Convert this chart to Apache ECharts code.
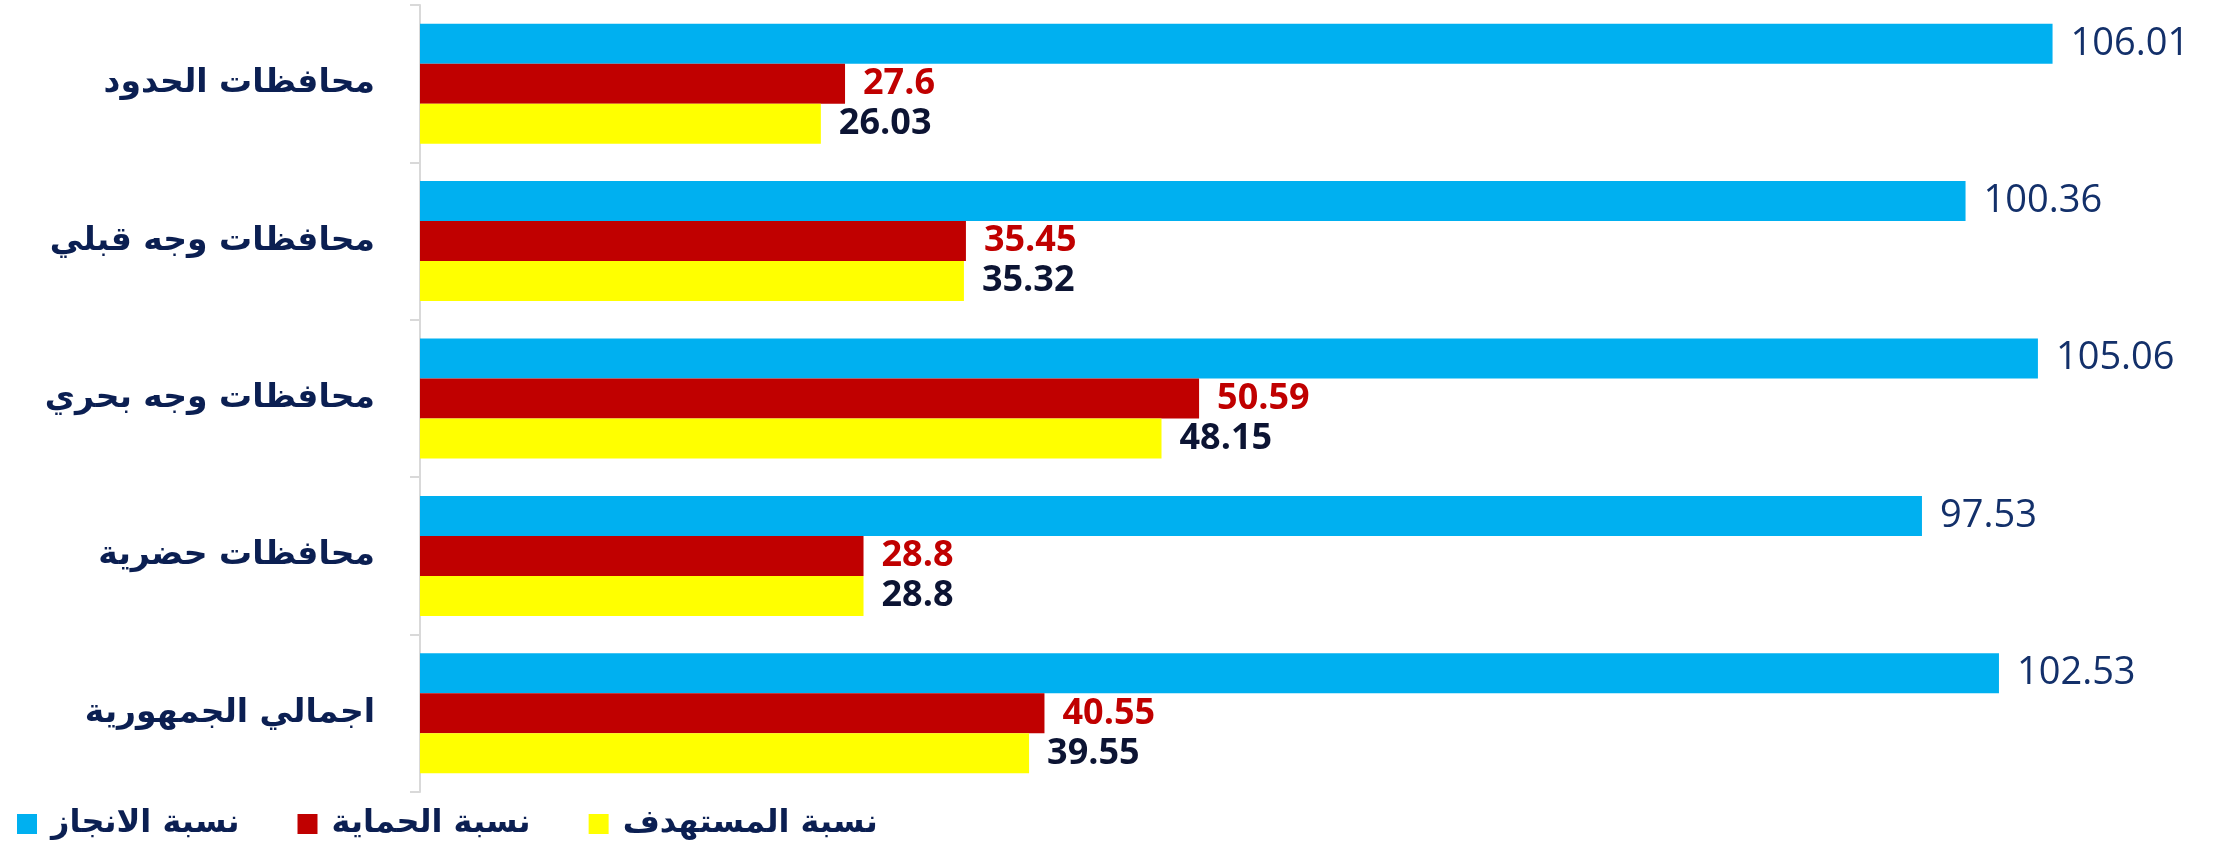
<!DOCTYPE html>
<html>
<head>
<meta charset="utf-8">
<script src="https://cdn.jsdelivr.net/npm/echarts@6/dist/echarts.min.js"></script>
<style>html,body{margin:0;padding:0;background:#fff}#c{width:2216px;height:851px}</style>
</head>
<body>
<div id="c"></div>
<script>
const categories = ['محافظات الحدود', 'محافظات وجه قبلي', 'محافظات وجه بحري', 'محافظات حضرية', 'اجمالي الجمهورية'];
const achievement = [106.01, 100.36, 105.06, 97.53, 102.53];
const protection = [27.6, 35.45, 50.59, 28.8, 40.55];
const target = [26.03, 35.32, 48.15, 28.8, 39.55];
const seriesNames = ['نسبة الانجاز', 'نسبة الحماية', 'نسبة المستهدف'];

const chart = echarts.init(document.getElementById('c'), null, {renderer: 'canvas'});
const numFont = '"Open Sans", "DejaVu Sans", sans-serif';
const arFont = '"DejaVu Sans", "Noto Sans", sans-serif';
chart.setOption({
  animation: false,
  backgroundColor: '#ffffff',
  grid: {left: 420, right: 102, top: 5, bottom: 59, containLabel: false},
  legend: {
    data: seriesNames,
    left: 12, top: 803,
    itemWidth: 20, itemHeight: 20, itemGap: 58,
    icon: 'rect',
    textStyle: {fontFamily: arFont, fontSize: 32, color: '#0b1f52', fontWeight: 'bold', padding: [0, 0, 0, 9]}
  },
  xAxis: {
    type: 'value', min: 0, max: 110,
    axisLine: {show: false}, axisTick: {show: false},
    axisLabel: {show: false}, splitLine: {show: false}
  },
  yAxis: {
    type: 'category', data: categories, inverse: true,
    axisLine: {show: true, lineStyle: {color: '#d9d9d9', width: 2}},
    axisTick: {show: true, length: 10, lineStyle: {color: '#d9d9d9', width: 2}},
    axisLabel: {margin: 45, fontFamily: arFont, fontSize: 33, fontWeight: 'bold', color: '#0b1f52'}
  },
  series: [
    {
      name: seriesNames[0], type: 'bar', data: achievement,
      barWidth: 40, barGap: '0%',
      itemStyle: {color: '#00b0f0'},
      label: {show: true, position: 'right', distance: 18, fontFamily: numFont, fontSize: 38, color: '#13306a'}
    },
    {
      name: seriesNames[1], type: 'bar', data: protection,
      barWidth: 40, barGap: '0%',
      itemStyle: {color: '#c00000'},
      label: {show: true, position: 'right', distance: 18, fontFamily: numFont, fontSize: 36, fontWeight: 'bold', color: '#c00000'}
    },
    {
      name: seriesNames[2], type: 'bar', data: target,
      barWidth: 40, barGap: '0%',
      itemStyle: {color: '#ffff00'},
      label: {show: true, position: 'right', distance: 18, fontFamily: numFont, fontSize: 36, fontWeight: 'bold', color: '#0c1433'}
    }
  ]
});
</script>
</body>
</html>
